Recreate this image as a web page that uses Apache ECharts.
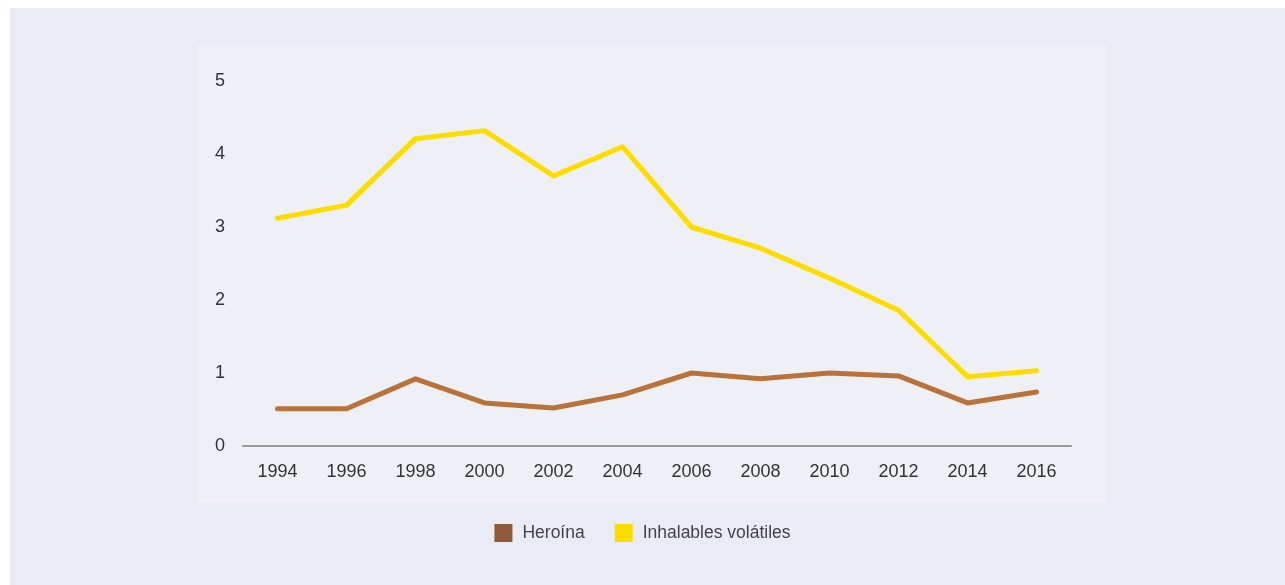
<!DOCTYPE html>
<html>
<head>
<meta charset="utf-8">
<style>
  html, body { margin: 0; padding: 0; background: #ffffff; }
  #chart { width: 1285px; height: 585px; }
</style>
<script src="https://cdn.jsdelivr.net/npm/echarts@6/dist/echarts.min.js"></script>
</head>
<body>
<div id="chart"></div>
<script>
// datos
const years = ['1994', '1996', '1998', '2000', '2002', '2004', '2006', '2008', '2010', '2012', '2014', '2016'];
const heroina = [0.51, 0.51, 0.92, 0.59, 0.52, 0.70, 1.00, 0.92, 1.00, 0.96, 0.59, 0.74];
const inhalables = [3.12, 3.30, 4.21, 4.32, 3.70, 4.10, 3.00, 2.71, 2.30, 1.86, 0.95, 1.03];
const seriesNames = ['Heroína', 'Inhalables volátiles'];

const font = '"Liberation Sans", Arial, sans-serif';
const myChart = echarts.init(document.getElementById('chart'));

myChart.setOption({
    backgroundColor: '#ffffff',
    animation: false,
    graphic: [
        { type: 'rect', z: -10, shape: { x: 10, y: 8, width: 1275, height: 577 }, style: { fill: '#e9ecf4' } },
        { type: 'rect', z: -9, shape: { x: 197, y: 45, width: 910, height: 458 }, style: { fill: '#eef0f5' } }
    ],
    grid: { left: 243, right: 214, top: 81, bottom: 139 },
    legend: {
        top: 519,
        left: 'center',
        itemWidth: 18,
        itemHeight: 18,
        itemGap: 30,
        icon: 'rect',
        textStyle: { fontFamily: font, fontSize: 17.5, color: '#444', padding: [0, 0, 0, 5] },
        data: seriesNames
    },
    xAxis: {
        type: 'category',
        data: years,
        boundaryGap: true,
        axisLine: { lineStyle: { color: '#9a9a9a', width: 2 } },
        axisTick: { show: false },
        axisLabel: { fontFamily: font, fontSize: 18, color: '#333', margin: 17 }
    },
    yAxis: {
        type: 'value',
        min: 0,
        max: 5,
        interval: 1,
        splitLine: { show: false },
        axisLine: { show: false },
        axisTick: { show: false },
        axisLabel: { fontFamily: font, fontSize: 18, color: '#333', margin: 18 }
    },
    series: [
        {
            name: seriesNames[0],
            type: 'line',
            data: heroina,
            symbol: 'none',
            itemStyle: { color: '#8d5a3b' },
            lineStyle: { color: '#b8723a', width: 5, cap: 'round', join: 'round' }
        },
        {
            name: seriesNames[1],
            type: 'line',
            data: inhalables,
            symbol: 'none',
            itemStyle: { color: '#ffdc00' },
            lineStyle: { color: '#ffdc00', width: 5, cap: 'round', join: 'round' }
        }
    ]
});
</script>
</body>
</html>
